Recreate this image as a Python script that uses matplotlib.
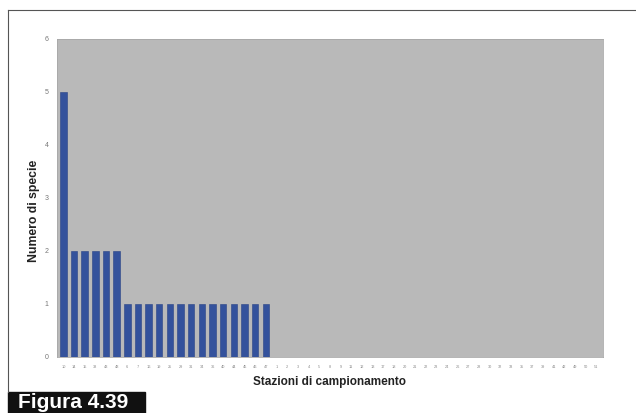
import matplotlib.pyplot as plt
from matplotlib.lines import Line2D
from matplotlib.patches import Rectangle

plt.rcParams["font.family"] = ["Liberation Sans", "DejaVu Sans"]

# stations with species found, then the empty ones
stations = ["10", "14", "15", "38", "43", "48", "6", "7", "16", "19", "25", "29",
            "31", "34", "36", "40", "44", "45", "46", "47",
            "1", "2", "3", "4", "5", "8", "9", "11", "12", "13", "17", "18", "20",
            "21", "22", "23", "24", "26", "27", "28", "30", "32", "33", "35", "37",
            "39", "41", "42", "49", "50", "51"]
species = [5, 2, 2, 2, 2, 2, 1, 1, 1, 1, 1, 1, 1, 1, 1, 1, 1, 1, 1, 1] + [0] * 31
yticks = [0, 1, 2, 3, 4, 5, 6]

fig = plt.figure(figsize=(6.36, 4.13), dpi=100)
ax = fig.add_axes([0.0896, 0.1356, 0.858, 0.77])
ax.set_facecolor("#b9b9b9")

x = range(len(stations))
ax.bar(x, species, width=0.6, color="#34529c", edgecolor="#2a4486", linewidth=0.4)
ax.set_xlim(-0.6, len(stations) - 0.4)
ax.set_ylim(0, 6)
ax.set_yticks(yticks)
ax.set_yticklabels([str(v) for v in yticks], fontsize=5, color="#777777")
ax.set_xticks(list(x))
ax.set_xticklabels(stations, fontsize=2.8, color="#888888")
ax.tick_params(axis="both", length=0, pad=6)
for s in ax.spines.values():
    s.set_color("#a8a8a8")
    s.set_linewidth(0.6)

ax.set_ylabel("Numero di specie", fontsize=8.8, fontweight="bold", color="#222222")
ax.yaxis.set_label_coords(-0.031, 0.46)
ax.set_xlabel("Stazioni di campionamento", fontsize=8.5, fontweight="bold",
              color="#222222", labelpad=5)

# page frame and caption box
fig.add_artist(Line2D([8 / 636, 1.0], [1 - 10 / 413] * 2, color="#555555", lw=0.8))
fig.add_artist(Line2D([8 / 636] * 2, [1 - 10 / 413, 21 / 413], color="#555555", lw=0.8))
fig.add_artist(Rectangle((8 / 636, 0), 137 / 636, 21 / 413, transform=fig.transFigure,
                         color="#111111"))
fig.text(18 / 636, 10 / 413, "Figura 4.39", color="white", fontsize=15,
         fontweight="bold", va="center", ha="left")

fig.savefig("out.png", dpi=100)
